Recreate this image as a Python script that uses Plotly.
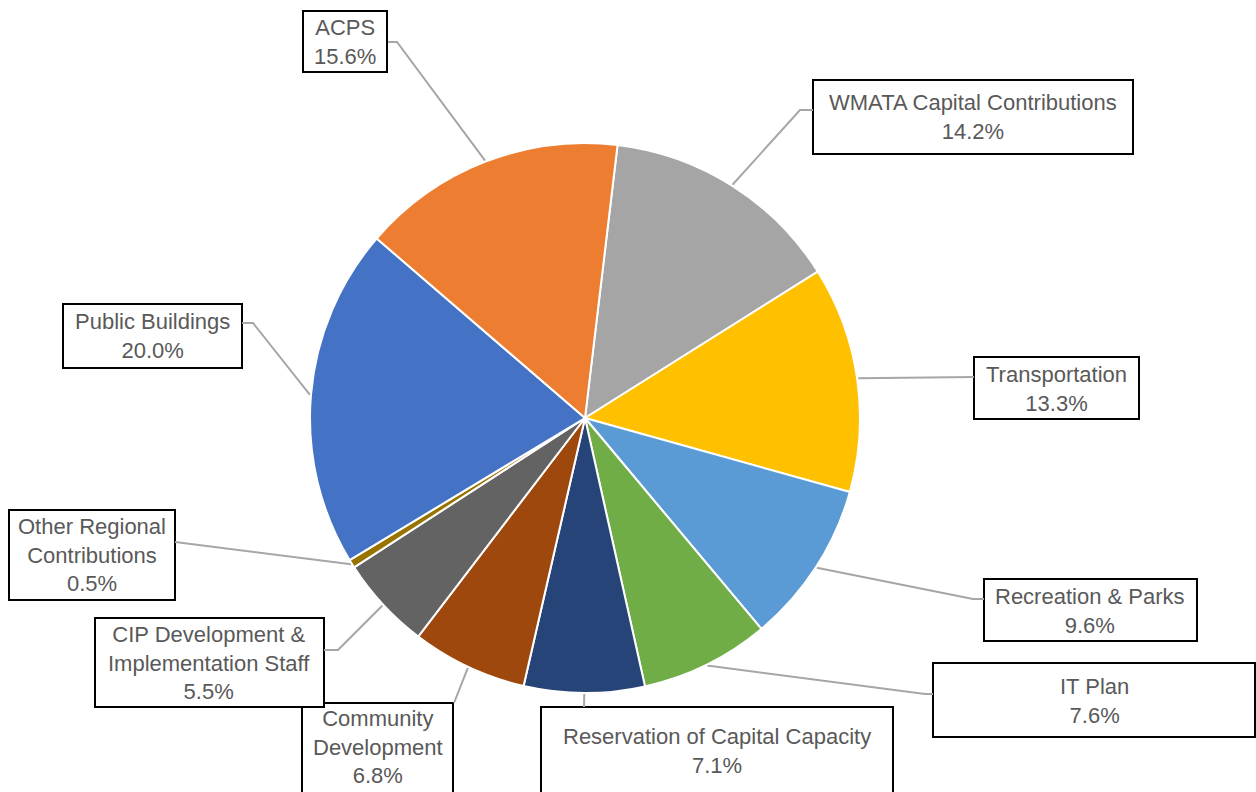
import math
import plotly.graph_objects as go

# ---- data ----
categories = ["WMATA Capital Contributions", "Transportation", "Recreation & Parks", "IT Plan",
              "Reservation of Capital Capacity", "Community Development",
              "CIP Development & Implementation Staff", "Other Regional Contributions",
              "Public Buildings", "ACPS"]
values = [14.2, 13.3, 9.6, 7.6, 7.1, 6.8, 5.5, 0.5, 20.0, 15.6]
label_texts = ["WMATA Capital Contributions<br>14.2%", "Transportation<br>13.3%",
               "Recreation & Parks<br>9.6%", "IT Plan<br>7.6%",
               "Reservation of Capital Capacity<br>7.1%", "Community<br>Development<br>6.8%",
               "CIP Development &<br>Implementation Staff<br>5.5%",
               "Other Regional<br>Contributions<br>0.5%", "Public Buildings<br>20.0%",
               "ACPS<br>15.6%"]
colors = ["#A5A5A5", "#FFC000", "#5B9BD5", "#70AD47", "#264478", "#9E480E",
          "#636363", "#997300", "#4472C4", "#ED7D31"]

# ---- layout (pixels) ----
W, H = 1256, 792
CX, CY, R = 585, 418, 276
ROTATION = 6.8

boxes = {  # x0, y0, x1, y1
    "WMATA Capital Contributions": (813, 80, 1133, 154),
    "Transportation": (974, 357, 1139, 419),
    "Recreation & Parks": (984, 579, 1197, 641),
    "IT Plan": (933, 663, 1255, 737),
    "Reservation of Capital Capacity": (541, 707, 893, 800),
    "Community Development": (302, 703, 453, 800),
    "CIP Development & Implementation Staff": (95, 618, 324, 707),
    "Other Regional Contributions": (9, 510, 175, 600),
    "Public Buildings": (63, 304, 242, 368),
    "ACPS": (303, 11, 387, 72),
}
text_centers = {
    "WMATA Capital Contributions": (973, 117),
    "Transportation": (1056, 389),
    "Recreation & Parks": (1090, 611),
    "IT Plan": (1094, 701),
    "Reservation of Capital Capacity": (717, 751),
    "Community Development": (378, 747),
    "CIP Development & Implementation Staff": (209, 663),
    "Other Regional Contributions": (92, 555),
    "Public Buildings": (152, 336),
    "ACPS": (345, 42),
}
leader_ends = {
    "WMATA Capital Contributions": [(800, 110), (813, 110)],
    "Transportation": [(974, 377)],
    "Recreation & Parks": [(973, 599), (984, 599)],
    "IT Plan": [(925, 694), (933, 694)],
    "Reservation of Capital Capacity": [(584, 707)],
    "Community Development": [(454, 703)],
    "CIP Development & Implementation Staff": [(338, 650), (324, 650)],
    "Other Regional Contributions": [(175, 542)],
    "Public Buildings": [(253, 323), (242, 323)],
    "ACPS": [(397, 42), (388, 42)],
}

fig = go.Figure()

# leader lines, starting at each slice's mid-angle on the pie edge
total = sum(values)
ang = ROTATION
for cat, v in zip(categories, values):
    mid = ang + v / total * 180.0
    ang += v / total * 360.0
    sx = CX + R * math.sin(math.radians(mid))
    sy = CY - R * math.cos(math.radians(mid))
    pts = [(sx, sy)] + leader_ends[cat]
    fig.add_trace(go.Scatter(x=[p[0] for p in pts], y=[p[1] for p in pts], mode="lines",
                             line=dict(color="#A6A6A6", width=2), hoverinfo="skip",
                             showlegend=False, xaxis="x", yaxis="y"))

fig.add_trace(go.Pie(labels=categories, values=values, sort=False, direction="clockwise",
                     rotation=ROTATION, marker=dict(colors=colors, line=dict(color="white", width=2)),
                     textinfo="none", showlegend=False,
                     domain=dict(x=[(CX - R + 1) / W, (CX + R - 1) / W],
                                 y=[1 - (CY + R - 1) / H, 1 - (CY - R + 1) / H])))

for cat, txt in zip(categories, label_texts):
    x0, y0, x1, y1 = boxes[cat]
    fig.add_shape(type="rect", xref="x", yref="y", x0=x0, y0=y0, x1=x1, y1=y1,
                  line=dict(color="black", width=2), fillcolor="white", layer="below")
    tx, ty = text_centers[cat]
    fig.add_annotation(x=tx, y=ty, xref="x", yref="y", text=txt, showarrow=False,
                       font=dict(family="Liberation Sans", size=22, color="#595959"),
                       align="center", xanchor="center", yanchor="middle")

fig.update_layout(
    width=W, height=H, margin=dict(l=0, r=0, t=0, b=0),
    paper_bgcolor="white", plot_bgcolor="white",
    xaxis=dict(range=[0, W], visible=False, fixedrange=True, domain=[0, 1]),
    yaxis=dict(range=[H, 0], visible=False, fixedrange=True, domain=[0, 1]),
)

fig.write_html("out.html", config={"displayModeBar": False},
               post_script="document.body.style.margin='0';document.body.style.overflow='hidden';")
